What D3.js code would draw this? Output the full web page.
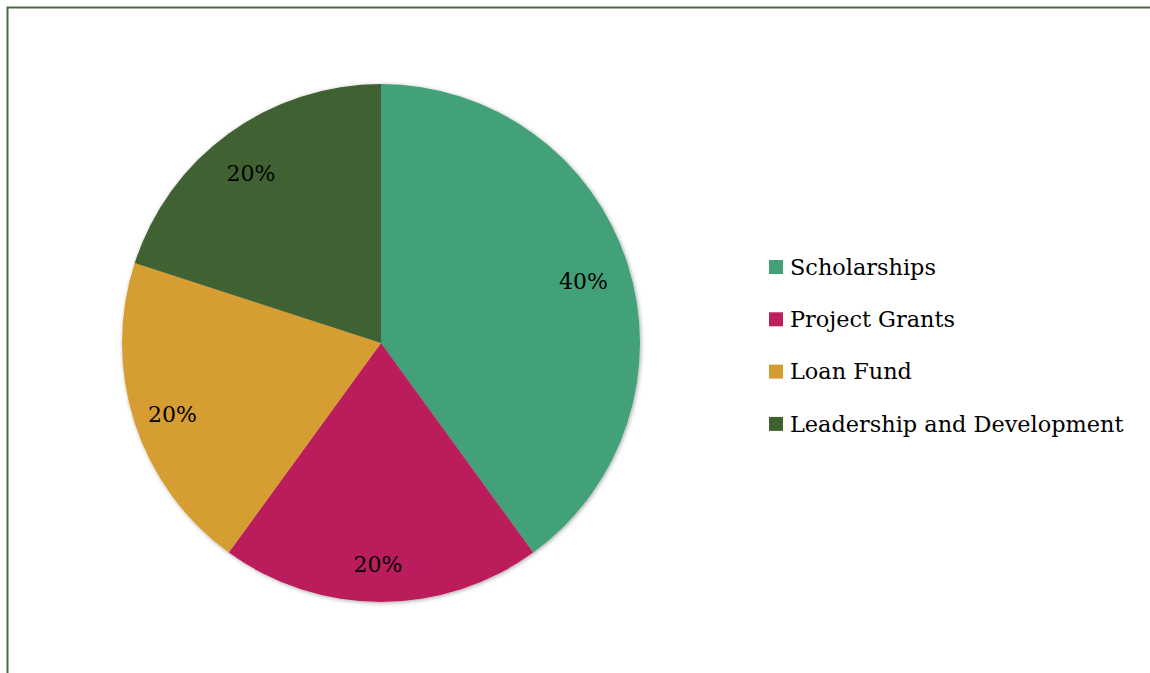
<!DOCTYPE html>
<html>
<head>
<meta charset="utf-8">
<script src="https://cdn.jsdelivr.net/npm/d3@7"></script>
<style>
  body { margin: 0; background: #fff; }
  svg { display: block; }
  text { font-family: "DejaVu Serif", "Liberation Serif", serif; }
</style>
</head>
<body>
<div id="chart"></div>
<script>
const categories = ["Scholarships", "Project Grants", "Loan Fund", "Leadership and Development"];
const values = [40, 20, 20, 20];
const colors = ["#43a178", "#bb1f5c", "#d59d31", "#3f6230"];

const width = 1150;
const height = 673;

const svg = d3.select("#chart")
    .append("svg")
    .attr("width", width)
    .attr("height", height);

// frame (only top + left edge fall inside the picture)
svg.append("path")
    .attr("d", `M7.5,${height} V7.5 H${width}`)
    .attr("fill", "none")
    .attr("stroke", "#4a6b40")
    .attr("stroke-width", 2);

const cx = 381, cy = 343, radius = 259;

const data = categories.map((c, i) => ({ name: c, value: values[i], color: colors[i] }));

const pie = d3.pie().sort(null).value(d => d.value);
const arc = d3.arc().innerRadius(0).outerRadius(radius);
const labelArc = d3.arc().innerRadius(216).outerRadius(216);

// soft drop shadow under the pie
const defs = svg.append("defs");
const shadow = defs.append("filter").attr("id", "shadow")
    .attr("x", "-10%").attr("y", "-10%").attr("width", "120%").attr("height", "120%");
shadow.append("feGaussianBlur").attr("in", "SourceAlpha").attr("stdDeviation", 2);
shadow.append("feOffset").attr("dx", 1).attr("dy", 1).attr("result", "blur");
shadow.append("feComponentTransfer").append("feFuncA").attr("type", "linear").attr("slope", 0.35);
const merge = shadow.append("feMerge");
merge.append("feMergeNode");
merge.append("feMergeNode").attr("in", "SourceGraphic");

const g = svg.append("g").attr("transform", `translate(${cx},${cy})`);

g.append("g").attr("filter", "url(#shadow)")
  .selectAll("path")
  .data(pie(data))
  .enter()
  .append("path")
  .attr("d", arc)
  .attr("fill", d => d.data.color);

g.selectAll("text.label")
  .data(pie(data))
  .enter()
  .append("text")
  .attr("class", "label")
  .attr("transform", d => {
      const [x, y] = labelArc.centroid(d);
      return `translate(${x - 3},${y + 5})`;
  })
  .attr("text-anchor", "middle")
  .attr("dy", "0.35em")
  .style("font-size", "22px")
  .attr("fill", "#000")
  .text(d => d.data.value + "%");

// legend
const legend = svg.append("g").attr("transform", "translate(769,267)");
const rows = legend.selectAll("g")
    .data(data)
    .enter()
    .append("g")
    .attr("transform", (d, i) => `translate(0,${i * 52.3})`);

rows.append("rect")
    .attr("x", 0)
    .attr("y", -7)
    .attr("width", 14)
    .attr("height", 14)
    .attr("fill", d => d.color);

rows.append("text")
    .attr("x", 21)
    .attr("dy", "0.35em")
    .style("font-size", "22.4px")
    .attr("fill", "#000")
    .text(d => d.name);
</script>
</body>
</html>
